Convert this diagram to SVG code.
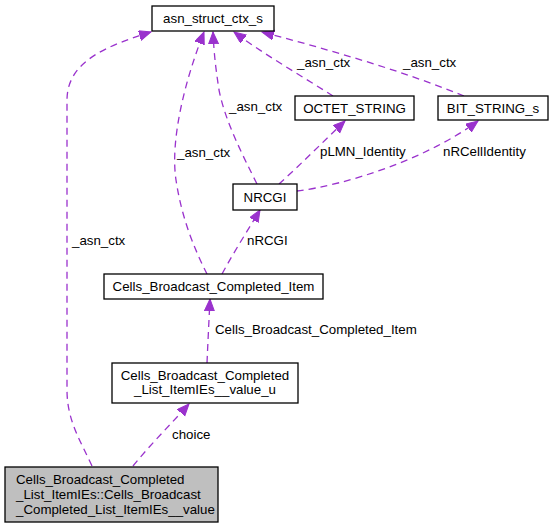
<svg xmlns="http://www.w3.org/2000/svg" width="553" height="528" viewBox="0 0 553 528">
<style>
text{font-family:"Liberation Sans",Arial,sans-serif;font-size:13.3px;fill:#000}
.n{fill:#fff;stroke:#000;stroke-width:1.3}
.g{fill:#bfbfbf;stroke:#000;stroke-width:1.3}
.e{fill:none;stroke:#9a32cd;stroke-width:1.3;stroke-dasharray:7,5;marker-end:url(#a)}
.c{text-anchor:middle}
</style>
<defs>
<marker id="a" markerWidth="14" markerHeight="12" refX="12" refY="5" orient="auto" markerUnits="userSpaceOnUse">
<path d="M0,0 L12,5 L0,10 Z" fill="#9a32cd" stroke="#9a32cd"/>
</marker>
</defs>
<rect width="553" height="528" fill="#fff"/>
<g id="edges">
<path class="e" d="M92,466 C80,440 67,420 67,390 L67,100 C67,60 110,45 151,32"/>
<text x="72" y="245">_asn_ctx</text>
<path class="e" d="M207,274 C195,250 182,220 176,180 C170,140 185,80 204,32"/>
<text x="177" y="157">_asn_ctx</text>
<path class="e" d="M257,184 C240,150 225,120 219,90 C216,70 214,55 213,32"/>
<text x="229" y="111">_asn_ctx</text>
<path class="e" d="M333,96 C300,75 265,55 234,32"/>
<text x="297" y="67">_asn_ctx</text>
<path class="e" d="M464,96 C400,70 330,50 262,32"/>
<text x="403" y="67">_asn_ctx</text>
<path class="e" d="M279,184 C300,165 325,140 345,121"/>
<text x="320" y="156">pLMN_Identity</text>
<path class="e" d="M297,191 C345,185 425,160 478,121"/>
<text x="443" y="156">nRCellIdentity</text>
<path class="e" d="M222,274 C235,250 248,230 260,210"/>
<text x="247" y="245">nRCGI</text>
<path class="e" d="M207,363 C208,340 209,320 210,299"/>
<text x="215" y="334">Cells_Broadcast_Completed_Item</text>
<path class="e" d="M133,466 C150,445 170,425 189,404"/>
<text x="172" y="439">choice</text>
</g>
<g id="asn_struct_ctx_s">
<rect class="n" x="152" y="6" width="122" height="25"/>
<text class="c" x="213" y="23">asn_struct_ctx_s</text>
</g>
<g id="OCTET_STRING">
<rect class="n" x="295" y="96" width="119" height="24"/>
<text class="c" x="354.5" y="113">OCTET_STRING</text>
</g>
<g id="BIT_STRING_s">
<rect class="n" x="438" y="96" width="110" height="24"/>
<text class="c" x="493" y="113">BIT_STRING_s</text>
</g>
<g id="NRCGI">
<rect class="n" x="233" y="184" width="64" height="26"/>
<text class="c" x="265" y="202">NRCGI</text>
</g>
<g id="Cells_Broadcast_Completed_Item">
<rect class="n" x="104" y="274" width="219" height="25"/>
<text class="c" x="213.5" y="291">Cells_Broadcast_Completed_Item</text>
</g>
<g id="value_u">
<rect class="n" x="112" y="363" width="186" height="40"/>
<text class="c" x="205" y="380">Cells_Broadcast_Completed</text>
<text class="c" x="205" y="394">_List_ItemIEs__value_u</text>
</g>
<g id="value">
<rect class="g" x="5" y="467" width="213" height="55"/>
<text x="16" y="484">Cells_Broadcast_Completed</text>
<text x="16" y="499">_List_ItemIEs::Cells_Broadcast</text>
<text x="16" y="514">_Completed_List_ItemIEs__value</text>
</g>
</svg>
